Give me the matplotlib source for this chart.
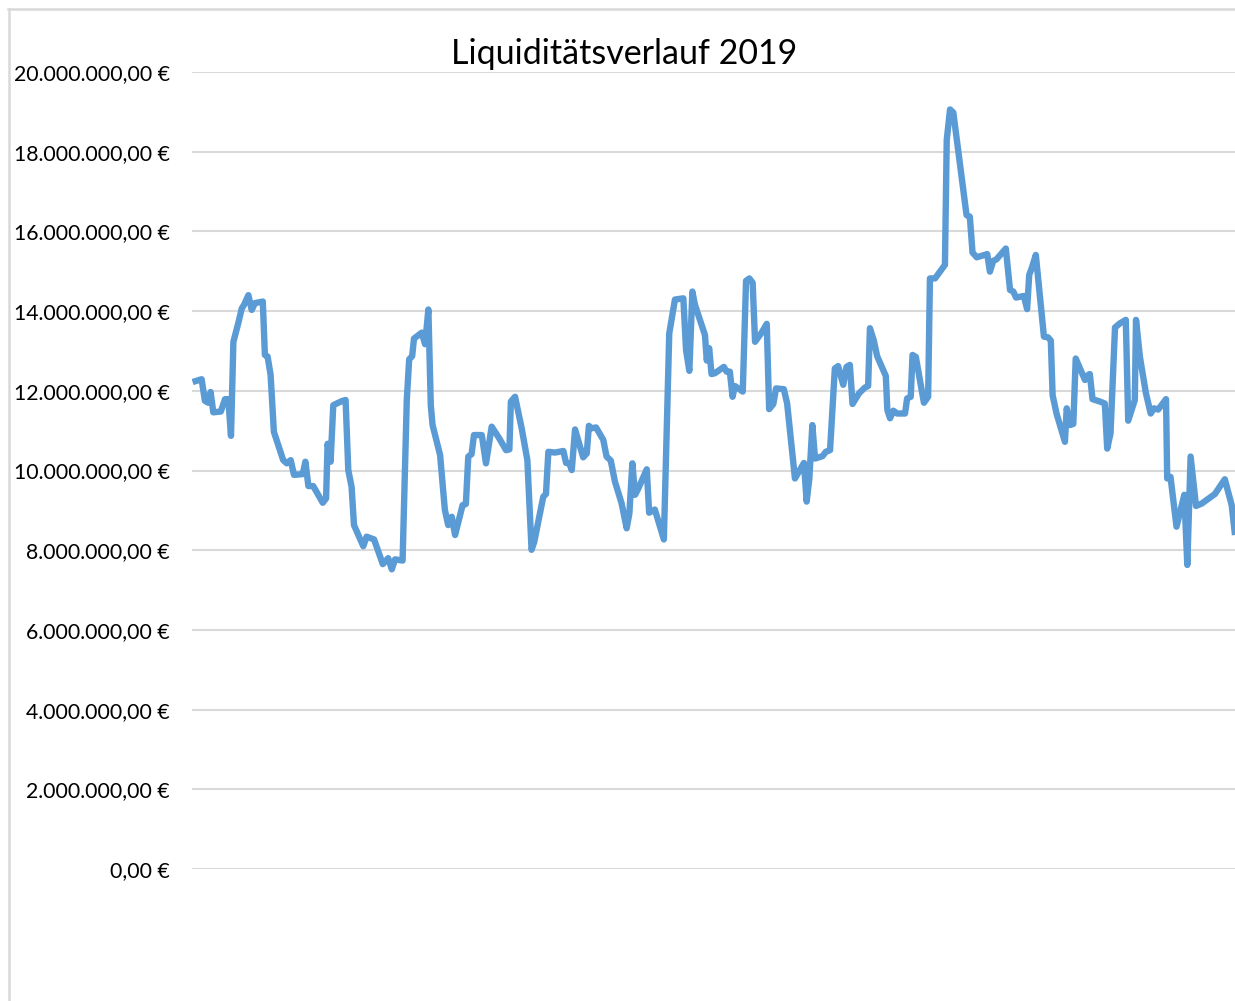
"""
Liquiditaetsverlauf 2019 - daily liquidity line chart (Excel look).

Output:
  out.png
"""
import matplotlib

matplotlib.use("Agg")
import matplotlib.pyplot as plt  # noqa: E402
from matplotlib.lines import Line2D  # noqa: E402
from matplotlib.ticker import FuncFormatter, MultipleLocator  # noqa: E402

TITLE = "Liquiditätsverlauf 2019"

# day of the year (visible part of the series) and balance in million EUR
days = [
    0.2, 3.2, 4.3, 5.4, 6.2, 7.1, 9.6, 11.0, 12.1, 13.0, 13.8, 15.4, 16.6, 17.3,
    18.8, 19.9, 21.0, 23.6, 24.3, 25.2, 26.2, 27.3, 30.4, 31.6, 32.9, 34.0,
    36.9, 37.8, 38.8, 40.4, 43.6, 44.7, 45.2, 46.2, 47.1, 49.9, 51.2, 52.1,
    53.2, 54.0, 57.1, 58.2, 60.7, 63.6, 65.4, 66.6, 67.7, 70.2, 71.6, 72.4,
    73.4, 74.0, 76.6, 77.7, 78.8, 79.6, 80.2, 82.7, 84.3, 85.4, 86.6, 87.7,
    90.2, 91.3, 92.1, 93.2, 94.0, 96.6, 98.0, 99.9, 102.4, 104.7, 105.8, 106.3,
    107.7, 109.9, 111.8, 113.2, 114.1, 117.1, 118.0, 118.8, 121.0, 123.8,
    124.7, 125.8, 126.6, 127.7, 130.4, 131.6, 132.3, 133.2, 134.7, 137.1,
    138.2, 139.6, 141.0, 143.2, 144.9, 145.8, 146.8, 147.7, 148.8, 151.6,
    152.4, 154.3, 156.0, 157.3, 159.1, 161.0, 163.8, 164.7, 165.8, 166.8,
    167.7, 171.0, 171.6, 172.4, 173.2, 174.3, 177.3, 178.2, 179.3, 180.2,
    181.0, 183.6, 184.7, 185.8, 186.9, 187.7, 189.9, 191.6, 192.4, 193.8,
    194.7, 197.3, 198.4, 201.0, 204.0, 204.9, 205.8, 206.8, 207.7, 210.2,
    211.3, 212.7, 214.3, 215.4, 217.1, 218.2, 219.3, 220.2, 222.4, 224.3,
    225.4, 226.0, 227.3, 228.4, 231.3, 231.8, 232.7, 233.8, 235.1, 237.7,
    238.4, 239.6, 240.2, 241.3, 244.0, 245.4, 246.0, 247.7, 251.0, 251.6,
    252.7, 253.8, 258.2, 259.3, 260.2, 261.6, 265.1, 266.0, 267.1, 268.2,
    271.3, 272.7, 273.8, 274.7, 277.3, 278.4, 279.1, 279.9, 281.3, 284.0,
    285.4, 286.3, 286.9, 288.2, 291.0, 291.6, 292.7, 293.8, 294.6, 297.7,
    298.8, 299.3, 300.2, 302.7, 304.3, 305.1, 306.2, 307.7, 309.3, 311.3,
    312.1, 313.6, 314.3, 314.7, 316.0, 318.0, 319.6, 320.7, 322.1, 324.7,
    325.1, 326.2, 328.2, 330.8, 331.8, 332.9, 334.7, 336.6, 341.0, 344.3,
    346.6, 347.7,
]
balance_mio = [
    12.22, 12.29, 11.75, 11.70, 11.97, 11.46, 11.48, 11.79, 11.79, 10.87, 13.23,
    13.69, 14.07, 14.15, 14.40, 14.03, 14.20, 14.24, 12.90, 12.86, 12.40, 10.97,
    10.26, 10.18, 10.26, 9.89, 9.91, 10.22, 9.61, 9.61, 9.19, 9.30, 10.67,
    10.22, 11.64, 11.74, 11.77, 10.01, 9.59, 8.63, 8.10, 8.34, 8.27, 7.65,
    7.80, 7.52, 7.77, 7.74, 11.77, 12.79, 12.87, 13.31, 13.46, 13.17, 14.04,
    11.64, 11.14, 10.39, 9.01, 8.63, 8.84, 8.38, 9.13, 9.16, 10.35, 10.41,
    10.89, 10.89, 10.18, 11.10, 10.81, 10.51, 10.53, 11.73, 11.85, 11.06,
    10.26, 8.01, 8.21, 9.34, 9.41, 10.47, 10.45, 10.49, 10.19, 10.18, 10.01,
    11.03, 10.33, 10.43, 11.12, 11.06, 11.08, 10.77, 10.35, 10.25, 9.72, 9.18,
    8.55, 8.92, 10.18, 9.39, 9.55, 10.03, 8.94, 9.02, 8.59, 8.27, 13.44, 14.29,
    14.32, 13.02, 12.50, 14.49, 14.15, 13.40, 12.76, 13.07, 12.42, 12.44,
    12.60, 12.48, 12.48, 11.85, 12.12, 11.98, 14.76, 14.82, 14.71, 13.23,
    13.46, 13.68, 11.54, 11.67, 12.06, 12.04, 11.68, 9.80, 10.19, 9.22, 9.80,
    11.14, 10.30, 10.36, 10.47, 10.51, 12.56, 12.62, 12.15, 12.60, 12.65,
    11.67, 11.94, 12.08, 12.12, 13.57, 13.26, 12.87, 12.37, 11.52, 11.31,
    11.50, 11.43, 11.43, 11.81, 11.85, 12.90, 12.85, 11.70, 11.85, 14.82,
    14.82, 15.16, 18.29, 19.06, 18.98, 16.41, 16.37, 15.47, 15.35, 15.43,
    14.99, 15.26, 15.30, 15.57, 14.53, 14.49, 14.34, 14.38, 14.05, 14.91,
    15.07, 15.41, 13.36, 13.34, 13.26, 11.89, 11.43, 10.72, 11.56, 11.14,
    11.17, 12.81, 12.27, 12.40, 12.42, 11.79, 11.73, 11.68, 10.55, 10.93,
    13.59, 13.69, 13.78, 11.25, 11.60, 11.77, 13.78, 12.85, 11.94, 11.43,
    11.56, 11.53, 11.79, 9.80, 9.84, 8.59, 9.39, 7.63, 10.35, 9.11, 9.17,
    9.41, 9.78, 9.13, 8.38,
]

BLUE = "#5B9BD5"
GRID = "#D9D9D9"
plt.rcParams["font.family"] = ["Lato", "DejaVu Sans"]


def euro(v, _pos):
    s = f"{v:,.2f}".replace(",", "X").replace(".", ",").replace("X", ".")
    return f"{s} €"


def main():
    fig = plt.figure(figsize=(12.35, 10.01), dpi=100)
    ax = fig.add_axes([192 / 1235, 132 / 1001, 1 - 192 / 1235, 797 / 1001])

    values = [b * 1e6 for b in balance_mio]
    ax.plot(days, values, color=BLUE, lw=4.6, solid_joinstyle="round",
            solid_capstyle="butt", zorder=3)

    ax.set_xlim(days[0] - 0.2, days[-1])
    ax.set_ylim(0, 20e6)
    ax.yaxis.set_major_locator(MultipleLocator(2e6))
    ax.yaxis.set_major_formatter(FuncFormatter(euro))
    ax.set_xticks([])
    ax.tick_params(axis="y", length=0, pad=16, labelsize=15.3, labelcolor="#000000")
    ax.grid(axis="y", color=GRID, lw=1.5)
    ax.set_axisbelow(True)
    for sp in ax.spines.values():
        sp.set_visible(False)

    fig.text(0.505, 0.946, TITLE, ha="center", va="center", fontsize=24.5, color="#000000")

    # chart area border (cut off on the right and at the bottom)
    fig.add_artist(Line2D([9 / 1235, 9 / 1235], [0, 1 - 9 / 1001],
                          transform=fig.transFigure, color=GRID, lw=1.8))
    fig.add_artist(Line2D([8 / 1235, 1], [1 - 9 / 1001, 1 - 9 / 1001],
                          transform=fig.transFigure, color=GRID, lw=1.8))

    fig.savefig("out.png", dpi=100, facecolor="white")
    plt.close(fig)


if __name__ == "__main__":
    main()
